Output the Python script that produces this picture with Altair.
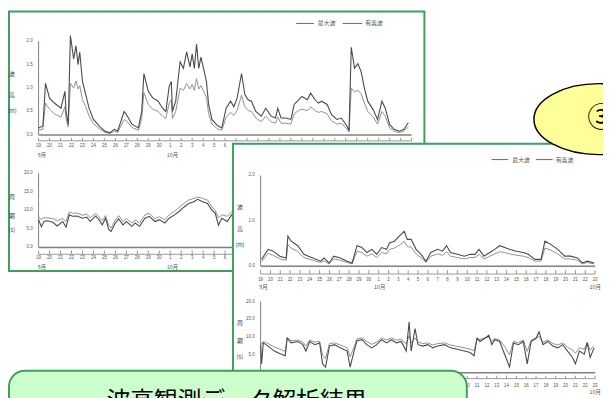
import altair as alt
import pandas as pd

# ---------------- data ----------------
SER = ["最大波", "有義波"]
TITLE = "波高観測データ解析結果"
BADGE = "③"
DATE_LABELS = ["19", "20", "21", "22", "23", "24", "25", "26", "27", "28", "29", "30",
               "1", "2", "3", "4", "5", "6", "7", "8", "9", "10", "11", "12", "13", "14",
               "15", "16", "17", "18", "19", "20", "21", "22", "23"]
H_TICKS = [0.0, 0.5, 1.0, 1.5, 2.0]
H_TICK_LABELS = ["0.0", "0.5", "1.0", "1.5", "2.0"]
H2_TICKS = [0.0, 1.0, 2.0]
H2_TICK_LABELS = ["0.0", "1.0", "2.0"]
T_TICKS = [0.0, 5.0, 10.0, 15.0, 20.0]
T_TICK_LABELS = ["0.0", "5.0", "10.0", "15.0", "20.0"]
H_TITLE = ["波", "高", "(m)"]
T_TITLE = ["周", "期", "(s)"]
MONTH1_DAYS = [0.3, 12.2]
MONTH1 = ["9月", "10月"]
MONTH2_DAYS = [0.3, 12.1, 34.0]
MONTH2 = ["9月", "10月", "10月"]

# panel 1 - wave height
days1 = [0, 0.39, 0.63, 0.99, 1.44, 2.04, 2.4, 2.5, 2.7, 2.9,
         3.2, 3.4, 3.6, 3.75, 4.0, 4.3, 4.6, 5.0, 5.6, 6.1,
         6.5, 6.9, 7.2, 7.8, 8.1, 8.5, 9.1, 9.4, 9.6, 10.0,
         10.4, 10.9, 11.3, 11.6, 11.9, 12.1, 12.2, 12.5, 12.9, 13.2,
         13.5, 13.8, 14.0, 14.2, 14.4, 14.6, 14.8, 15.1, 15.3, 15.5,
         15.8, 16.3, 16.7, 17.1, 17.5, 17.8, 18.1, 18.5, 18.8, 19.1,
         19.4, 19.8, 20.3, 20.7, 21.2, 21.6, 21.8, 22.1, 22.5, 23.0,
         23.3, 23.7, 24.0, 24.5, 24.8, 25.2, 25.5, 25.8, 26.3, 26.7,
         27.2, 27.6, 28.1, 28.3, 28.5, 28.8, 29.1, 29.4, 29.7, 30.0,
         30.5, 30.9, 31.3, 31.6, 32.0, 32.4, 32.9, 33.3, 33.7]
hmax1 = [0.15, 0.19, 1.10, 0.79, 0.68, 0.57, 0.93, 0.50, 0.23, 2.12,
         1.62, 1.90, 1.50, 1.77, 1.14, 0.86, 0.57, 0.33, 0.17, 0.07,
         0.05, 0.12, 0.08, 0.50, 0.40, 0.23, 0.15, 0.50, 1.31, 0.93,
         0.79, 0.72, 0.57, 0.50, 1.03, 1.14, 0.50, 0.72, 1.56, 1.42,
         1.77, 1.45, 1.73, 1.42, 1.94, 1.42, 1.66, 1.35, 1.14, 0.65,
         0.33, 0.20, 0.15, 0.57, 0.72, 0.60, 0.79, 1.31, 0.86, 0.75,
         0.72, 0.50, 0.40, 0.57, 0.40, 0.36, 0.57, 0.36, 0.36, 0.33,
         0.65, 0.75, 0.82, 0.75, 0.89, 0.75, 0.68, 0.72, 0.65, 0.43,
         0.33, 0.36, 0.19, 0.09, 1.87, 1.42, 1.52, 1.35, 1.00, 0.72,
         0.54, 0.33, 0.72, 0.57, 0.22, 0.12, 0.08, 0.12, 0.26]
hsig1 = [0.10, 0.12, 0.68, 0.55, 0.45, 0.38, 0.60, 0.35, 0.17, 1.10,
         1.00, 1.15, 0.98, 1.05, 0.75, 0.60, 0.40, 0.24, 0.12, 0.05,
         0.03, 0.08, 0.05, 0.33, 0.28, 0.16, 0.10, 0.35, 0.90, 0.65,
         0.55, 0.50, 0.40, 0.35, 0.68, 0.75, 0.35, 0.50, 1.00, 0.95,
         1.10, 0.98, 1.08, 0.95, 1.20, 0.98, 1.05, 0.90, 0.80, 0.45,
         0.23, 0.13, 0.10, 0.38, 0.48, 0.42, 0.52, 0.85, 0.60, 0.52,
         0.50, 0.36, 0.28, 0.40, 0.28, 0.25, 0.38, 0.25, 0.25, 0.23,
         0.45, 0.52, 0.55, 0.52, 0.60, 0.52, 0.48, 0.50, 0.45, 0.30,
         0.23, 0.25, 0.13, 0.06, 1.00, 0.92, 0.95, 0.88, 0.68, 0.50,
         0.38, 0.23, 0.50, 0.40, 0.15, 0.08, 0.05, 0.08, 0.18]

# panel 1 - period
pdays1 = [0, 0.25, 0.5, 0.8, 1.3, 1.7, 2.2, 2.5, 2.8, 3.1,
          3.5, 4.0, 4.4, 4.7, 5.2, 5.5, 5.8, 6.1, 6.4, 6.6,
          7.0, 7.3, 7.7, 8.0, 8.5, 8.8, 9.2, 9.7, 10.1, 10.6,
          11.0, 11.5, 11.9, 12.4, 12.8, 13.3, 13.7, 14.2, 14.5, 14.9,
          15.4, 15.8, 16.1, 16.4, 16.7, 17.2, 17.6, 18.0, 18.5, 19.0]
tmax1 = [7.5, 5.6, 7.0, 7.2, 6.8, 5.8, 7.0, 5.5, 8.8, 8.4,
         8.5, 7.9, 8.2, 7.0, 8.5, 7.5, 6.1, 7.9, 4.8, 4.3,
         6.6, 7.7, 6.1, 7.0, 5.7, 6.6, 5.7, 7.9, 8.4, 7.0,
         7.5, 6.6, 7.9, 8.8, 9.7, 11.0, 11.9, 12.4, 13.0, 12.4,
         11.9, 10.1, 9.3, 6.0, 7.9, 7.0, 8.8, 8.0, 8.5, 8.2]
tsig1 = [8.2, 7.6, 8.0, 8.0, 7.8, 7.2, 7.8, 7.0, 9.6, 9.2,
         9.3, 8.7, 9.0, 8.0, 9.2, 8.3, 7.2, 8.6, 6.0, 5.2,
         7.4, 8.6, 7.0, 7.8, 6.6, 7.4, 6.6, 8.8, 9.2, 7.8,
         8.3, 7.5, 8.8, 9.8, 10.8, 12.0, 12.8, 13.3, 13.6, 13.3,
         12.8, 11.0, 10.0, 8.0, 8.8, 8.4, 9.6, 9.0, 9.4, 9.0]

# panel 2 - wave height
days2 = [0.1, 0.77, 1.27, 1.94, 2.6, 2.77, 3.1, 3.78, 4.4, 5.3,
         6.1, 6.45, 6.95, 7.45, 8.1, 8.8, 9.3, 9.8, 10.3, 10.8,
         11.3, 11.8, 12.3, 12.8, 13.1, 13.6, 14.1, 14.6, 14.9, 15.3,
         15.8, 16.3, 16.8, 17.3, 18.0, 18.5, 18.9, 19.3, 20.0, 20.7,
         21.3, 21.8, 22.2, 22.7, 23.3, 23.8, 24.3, 24.8, 25.3, 26.0,
         26.7, 27.2, 27.9, 28.5, 28.9, 29.5, 30.2, 30.9, 31.5, 32.2,
         32.7, 33.2, 33.9]
hmax2 = [0.15, 0.37, 0.33, 0.22, 0.18, 0.66, 0.55, 0.45, 0.26, 0.18,
         0.11, 0.18, 0.07, 0.22, 0.18, 0.11, 0.07, 0.45, 0.41, 0.30,
         0.37, 0.26, 0.41, 0.37, 0.51, 0.55, 0.66, 0.77, 0.59, 0.59,
         0.37, 0.26, 0.11, 0.30, 0.37, 0.33, 0.45, 0.30, 0.26, 0.22,
         0.26, 0.26, 0.37, 0.22, 0.30, 0.37, 0.45, 0.41, 0.37, 0.33,
         0.30, 0.26, 0.15, 0.15, 0.55, 0.48, 0.37, 0.22, 0.22, 0.18,
         0.07, 0.11, 0.07]
hsig2 = [0.10, 0.28, 0.24, 0.16, 0.13, 0.48, 0.40, 0.32, 0.19, 0.13,
         0.08, 0.12, 0.05, 0.16, 0.13, 0.08, 0.05, 0.33, 0.30, 0.22,
         0.27, 0.19, 0.30, 0.27, 0.37, 0.40, 0.46, 0.55, 0.43, 0.42,
         0.27, 0.19, 0.08, 0.22, 0.27, 0.24, 0.32, 0.22, 0.19, 0.16,
         0.19, 0.19, 0.26, 0.16, 0.22, 0.27, 0.32, 0.30, 0.27, 0.24,
         0.22, 0.19, 0.11, 0.11, 0.40, 0.35, 0.27, 0.16, 0.16, 0.13,
         0.05, 0.08, 0.05]

# panel 2 - period
pdays2 = [0, 0.1, 0.27, 0.77, 1.4, 2.1, 2.5, 2.7, 3.1, 3.8,
          4.3, 4.6, 5.0, 5.5, 6.0, 6.3, 6.6, 7.0, 7.5, 8.1,
          8.8, 9.1, 9.5, 9.8, 10.3, 10.8, 11.3, 11.8, 12.3, 12.8,
          13.3, 13.8, 14.3, 14.8, 15.1, 15.3, 15.7, 16.0, 16.5, 17.0,
          17.5, 18.0, 18.7, 19.3, 20.0, 20.7, 21.3, 21.7, 22.0, 22.3,
          22.8, 23.2, 23.5, 23.8, 24.3, 24.8, 25.3, 25.7, 26.2, 26.7,
          27.1, 27.5, 28.0, 28.3, 28.7, 29.2, 29.7, 30.2, 30.7, 31.2,
          31.7, 32.0, 32.4, 32.9, 33.2, 33.5, 33.9]
tmax2 = [7.9, 2.5, 8.4, 7.5, 6.1, 5.2, 4.8, 9.7, 8.4, 8.8,
         7.9, 6.1, 8.8, 7.9, 8.4, 2.5, 1.6, 7.5, 7.9, 7.0,
         6.1, 1.6, 6.1, 9.0, 9.3, 7.9, 7.0, 7.9, 9.3, 8.4,
         9.3, 8.4, 8.8, 6.1, 14.3, 6.1, 12.4, 7.9, 7.5, 7.9,
         7.0, 7.5, 7.9, 7.0, 6.6, 6.1, 5.7, 4.8, 9.7, 8.8,
         9.7, 10.6, 7.9, 9.3, 8.8, 5.2, 1.6, 8.4, 7.9, 8.8,
         2.5, 8.8, 9.7, 11.5, 7.9, 8.8, 7.5, 7.0, 7.9, 6.1,
         4.3, 2.5, 6.1, 5.2, 8.4, 4.3, 7.0]
tsig2 = [8.6, 8.0, 8.8, 8.2, 7.2, 6.5, 6.0, 9.9, 9.0, 9.2,
         8.6, 7.5, 9.2, 8.6, 8.8, 5.0, 4.0, 8.2, 8.4, 7.8,
         7.0, 4.5, 7.2, 9.6, 9.8, 8.8, 8.0, 8.6, 9.8, 9.2,
         9.8, 9.2, 9.4, 8.0, 10.5, 8.4, 9.8, 8.6, 8.2, 8.4,
         7.8, 8.2, 8.4, 7.8, 7.4, 7.0, 6.6, 6.2, 9.6, 9.4,
         9.8, 10.0, 8.8, 9.6, 9.2, 7.4, 5.0, 8.8, 8.5, 9.2,
         6.0, 9.2, 9.8, 10.2, 8.6, 9.2, 8.2, 7.8, 8.4, 7.2,
         6.4, 5.5, 7.0, 6.6, 8.6, 6.4, 7.6]

# ---------------- styling / layout ----------------
GREEN = "#3f9f5f"
AXIS = "#808080"
LAB = "#555555"
DARK = "#4a4a4a"
LIGHT = "#909090"
JP = "Noto Sans CJK JP"
SANS = "Liberation Sans"


def P(v):
    # page pixel -> chart pixel (page has an 8px margin)
    return v - 8


def panel(days, smax, ssig, x0, x1, yb, yt, ydom, yvals, ylabs, mdays, mnames, offs):
    t0, t1, lo, mo = offs
    xs = alt.Scale(domain=[0, 34], range=[P(x0), P(x1)], nice=False, zero=False)
    ys = alt.Scale(domain=ydom, range=[P(yb), P(yt)], nice=False, zero=False)

    def X(f):
        return alt.X(f, scale=xs, axis=None)

    def Y(f):
        return alt.Y(f, scale=ys, axis=None)

    ticks = pd.DataFrame({"day": list(range(len(DATE_LABELS))), "lab": DATE_LABELS})
    ydf = pd.DataFrame({"v": yvals, "lab": ylabs})
    mdf = pd.DataFrame({"day": mdays, "lab": mnames})
    dsig = pd.DataFrame({"day": days, "v": ssig, "s": SER[1]})
    dmax = pd.DataFrame({"day": days, "v": smax, "s": SER[0]})

    layers = [
        alt.Chart().mark_rule(color=AXIS, strokeWidth=1.5).encode(
            x=alt.XDatum(0, scale=xs, axis=None), x2=alt.X2Datum(34),
            y=alt.YDatum(ydom[0], scale=ys, axis=None)),
        alt.Chart().mark_rule(color=AXIS, strokeWidth=1).encode(
            x=alt.value(P(x0)),
            y=alt.YDatum(ydom[0], scale=ys, axis=None), y2=alt.Y2Datum(ydom[1])),
        alt.Chart().mark_rule(color=AXIS, strokeWidth=0.8).encode(
            x=alt.XDatum(0, scale=xs, axis=None), x2=alt.X2Datum(34),
            y=alt.value(P(yb + t1))),
        alt.Chart(ticks).mark_rule(color=AXIS, strokeWidth=0.8).encode(
            x=X("day:Q"), y=alt.value(P(yb + t0)), y2=alt.value(P(yb + t1))),
        alt.Chart(ticks).mark_text(fontSize=4.5, color=LAB, font=SANS).encode(
            x=X("day:Q"), y=alt.value(P(yb + lo)), text="lab:N"),
        alt.Chart(mdf).mark_text(fontSize=5.5, color=LAB, font=JP).encode(
            x=X("day:Q"), y=alt.value(P(yb + mo)), text="lab:N"),
        alt.Chart(ydf).mark_text(fontSize=4.5, color=LAB, font=SANS, align="right").encode(
            x=alt.value(P(x0 - 6)), y=Y("v:Q"), text="lab:N"),
        alt.Chart(dsig).mark_line(color=LIGHT, strokeWidth=1).encode(
            x=X("day:Q"), y=Y("v:Q")),
        alt.Chart(dmax).mark_line(color=DARK, strokeWidth=1.1).encode(
            x=X("day:Q"), y=Y("v:Q")),
    ]
    return layers


def ytitle(chars, x, ys_):
    out = []
    for ch, yy in zip(chars, ys_):
        out.append(alt.Chart().mark_text(text=ch, fontSize=6, color="#444444", font=JP).encode(
            x=alt.value(P(x)), y=alt.value(P(yy))))
    return out


def legend(y, l1, t1, l2, t2):
    out = []
    for (a, b), tx, name in [(l1, t1, SER[0]), (l2, t2, SER[1])]:
        out.append(alt.Chart().mark_rule(color="#666666", strokeWidth=1).encode(
            x=alt.value(P(a)), x2=alt.value(P(b)), y=alt.value(P(y))))
        out.append(alt.Chart().mark_text(text=name, fontSize=6, color=LAB, font=JP,
                                         align="left").encode(
            x=alt.value(P(tx)), y=alt.value(P(y))))
    return out


def box(x0, x1, y0, y1, fill, radius=0):
    return alt.Chart().mark_rect(fill=fill, stroke=GREEN, strokeWidth=2,
                                 cornerRadius=radius).encode(
        x=alt.value(P(x0)), x2=alt.value(P(x1)), y=alt.value(P(y0)), y2=alt.value(P(y1)))


p1a = panel(days1, hmax1, hsig1, 39, 417, 134, 39, [0, 2], H_TICKS, H_TICK_LABELS,
            MONTH1_DAYS, MONTH1, (3, 6, 11, 20))
p1b = panel(pdays1, tmax1, tsig1, 39, 417, 248, 173, [0, 20], T_TICKS, T_TICK_LABELS,
            MONTH1_DAYS, MONTH1, (3, 7, 11, 20))
p2a = panel(days2, hmax2, hsig2, 264, 603, 267, 175, [0, 2], H2_TICKS, H2_TICK_LABELS,
            MONTH2_DAYS, MONTH2, (4, 8, 14, 21))
p2b = panel(pdays2, tmax2, tsig2, 264, 603, 375, 303, [0, 20], T_TICKS, T_TICK_LABELS,
            MONTH2_DAYS, MONTH2, (3, 6, 13, 20))

ELLIPSE = ("M-1,0 C-1,-0.301 -0.552,-0.545 0,-0.545 C0.552,-0.545 1,-0.301 1,0 "
           "C1,0.301 0.552,0.545 0,0.545 C-0.552,0.545 -1,0.301 -1,0 Z")

layers = []
layers.append(box(9, 430, 9, 272, "white"))
layers.append(alt.layer(*legend(21, (300, 318), 322, (347, 367), 370)))
layers.append(alt.layer(*ytitle(H_TITLE, 12, [72, 94, 110]), *ytitle(T_TITLE, 12, [197, 216, 230])))
layers.append(alt.layer(*p1a))
layers.append(alt.layer(*p1b))
layers.append(box(236, 640, 143, 430, "white"))
layers.append(alt.layer(*legend(159, (498, 515), 519, (543, 560), 563)))
layers.append(alt.layer(*ytitle(H_TITLE, 243, [207, 229, 246]), *ytitle(T_TITLE, 243, [325, 343, 359])))
layers.append(alt.layer(*p2a))
layers.append(alt.layer(*p2b))
layers.append(alt.Chart().mark_point(shape=ELLIPSE, size=17424, filled=True, fill="#ffff99",
                                     stroke="black", strokeWidth=1.5, opacity=1).encode(
    x=alt.value(P(607)), y=alt.value(P(118))))
layers.append(alt.Chart().mark_text(text=BADGE, fontSize=28, font=JP, color="black").encode(
    x=alt.value(P(609)), y=alt.value(P(118))))
layers.append(box(9, 473, 373, 440, "#ccffcc", radius=16))
layers.append(alt.Chart().mark_text(text=TITLE, fontSize=24, font=JP, color="black",
                                    baseline="alphabetic").encode(
    x=alt.value(P(240)), y=alt.value(P(412))))

chart = alt.layer(*layers).resolve_scale(
    x="independent", y="independent"
).properties(
    width=603, height=390, padding=0,
    autosize=alt.AutoSizeParams(type="none"),
).configure_view(strokeWidth=0)

chart.save("out.html", embed_options={"renderer": "svg", "actions": False})
